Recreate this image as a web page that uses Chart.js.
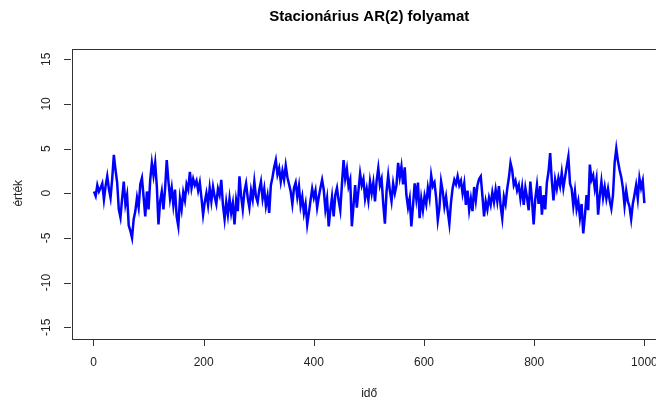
<!DOCTYPE html>
<html>
<head>
<meta charset="utf-8">
<script src="https://cdn.jsdelivr.net/npm/chart.js@4.4.1/dist/chart.umd.min.js"></script>
<style>
  html, body { margin: 0; padding: 0; background: #fff; overflow: hidden; }
  #wrap { width: 656px; height: 404px; overflow: hidden; }
</style>
</head>
<body>
<div id="wrap"><canvas id="graf" width="680" height="404"></canvas></div>
<script>
var lepes = 3;
var ertekek = [
  0.2, -0.3, 0.9, 0.2, 0.6, 1.1, -0.7, 0.8, 1.9, 0.5,
  -0.5, 1.6, 4.3, 2.6, 1.2, -1.8, -2.7, -0.6, 1.3, -1.2,
  -0.2, -3.6, -4.2, -5.0, -2.9, -2.0, -0.5, -1.6, 1.0, 1.7,
  -0.4, -2.6, 0.2, -1.8, 1.5, 3.4, 2.0, 3.4, 0.8, -3.5,
  -0.9, 0.2, -1.8, 0.5, 3.7, 1.4, -0.6, 0.6, -1.3, 0.4,
  -2.6, -3.7, -0.6, -1.8, 0.1, -0.8, 1.0, 0.4, 2.4, 0.6,
  1.6, 0.9, 1.4, 0.3, 1.2, -0.5, -2.4, -1.0, 0.0, -1.3,
  0.6, -0.9, 0.7, -0.4, -1.2, 0.5, -0.2, 1.5, -1.3, -2.9,
  -1.0, -2.4, -0.6, -2.2, -1.1, -3.5, -0.8, -2.0, 1.9, -0.3,
  -1.8, 0.2, 1.1, -0.5, -1.6, 0.3, -0.7, 1.3, -0.4, -1.0,
  0.4, 1.3, -0.6, 0.5, -1.4, -0.3, -2.2, 0.9, 1.8, 2.9,
  3.7, 2.1, 2.8, 1.3, 2.5, 1.5, 3.1, 1.8, 1.0, 0.2,
  -1.2, 0.6, 1.2, -0.4, 0.8, -1.4, -0.4, -2.2, -1.2, -3.5,
  -2.2, -0.8, 0.5, -0.5, 0.3, -1.6, -0.4, 0.6, 1.5, 0.4,
  -1.8, -0.6, -3.7, -1.9, -0.4, -2.6, -0.2, 0.6, -0.8, -1.9,
  1.0, 3.7, 1.6, 2.7, 0.8, 1.5, -3.7, -1.4, 0.9, -1.6,
  0.3, 2.2, 0.9, 1.6, -0.6, 0.5, -0.8, 1.3, 0.0, 1.2,
  -0.9, 1.4, 2.8, 0.9, 1.6, -1.2, -3.4, 0.2, 2.0, 0.3,
  -0.9, 1.1, 0.0, 0.9, 3.4, 1.8, 3.0, 1.0, 2.9, -0.2,
  -1.6, -0.6, -3.7, -1.4, 1.1, -0.6, 1.2, -2.8, -0.6, -1.9,
  -0.3, -1.2, 0.6, -0.5, 2.0, 0.8, 1.2, -0.5, -3.0, -1.6,
  1.3, 0.2, -1.5, -0.4, -2.0, -3.4, -1.0, 0.6, 1.5, 1.0,
  1.9, 0.9, 1.4, 0.0, 1.1, -1.3, 0.3, -1.9, -0.6, -2.0,
  0.7, -0.8, 0.9, 1.6, 1.9, -0.3, -2.6, -0.9, -1.8, -0.5,
  -1.3, 0.1, -1.0, 0.4, -0.9, 0.8, -1.4, -2.8, -0.4, -1.2,
  0.5, 1.7, 3.4, 2.6, 0.9, 1.4, 0.3, 0.9, -0.6, 0.7,
  -1.3, 0.6, -0.5, -1.9, 1.3, -0.8, -3.5, -0.6, 0.9, -1.2,
  0.8, -2.4, -0.2, -1.8, 1.2, 2.4, 4.5, 1.4, -0.8, 1.5,
  0.5, 1.7, 0.8, 2.3, 0.6, 1.8, 3.0, 4.1, 1.1, 0.5,
  -1.4, 0.2, -1.8, -0.9, -2.7, -1.2, -4.5, -2.6, -0.2, -1.9,
  3.2, 1.5, 2.0, 0.5, 1.6, -2.4, -0.3, 1.3, -0.5, 0.7,
  -0.6, 0.5, -0.8, -1.7, -0.2, 3.4, 5.0, 3.6, 2.6, 1.8,
  0.6, -1.4, 0.3, -0.9, -1.5, -2.9, -1.2, -0.2, 0.9, -0.6,
  1.7, 0.6, 1.4, -1.1
];
var xTicks = [0, 200, 400, 600, 800, 1000];
var yTicks = [-15, -10, -5, 0, 5, 10, 15];
var cim = 'Stacionárius AR(2) folyamat';
var xCim = 'idő';
var yCim = 'érték';

var pontok = ertekek.map(function (v, i) { return { x: 1 + i * lepes, y: v }; });

var rTengely = {
  id: 'rTengely',
  afterDraw: function (chart) {
    var ctx = chart.ctx, a = chart.chartArea, sx = chart.scales.x, sy = chart.scales.y;
    ctx.save();
    ctx.strokeStyle = '#333';
    ctx.lineWidth = 1;
    ctx.strokeRect(Math.round(a.left) + 0.5, Math.round(a.top) + 0.5,
      Math.round(a.right - a.left), Math.round(a.bottom - a.top));

    ctx.fillStyle = '#222';
    ctx.font = '12px "Liberation Sans", Arial, sans-serif';

    // x axis
    ctx.beginPath();
    xTicks.forEach(function (t) {
      var px = Math.round(sx.getPixelForValue(t)) + 0.5;
      ctx.moveTo(px, a.bottom + 1);
      ctx.lineTo(px, a.bottom + 8);
    });
    ctx.stroke();
    ctx.textAlign = 'center';
    ctx.textBaseline = 'middle';
    xTicks.forEach(function (t) {
      ctx.fillText(String(t), sx.getPixelForValue(t), a.bottom + 25);
    });

    // y axis
    ctx.beginPath();
    yTicks.forEach(function (t) {
      var py = Math.round(sy.getPixelForValue(t)) + 0.5;
      ctx.moveTo(a.left - 1, py);
      ctx.lineTo(a.left - 8, py);
    });
    ctx.stroke();
    yTicks.forEach(function (t) {
      ctx.save();
      ctx.translate(a.left - 25, sy.getPixelForValue(t));
      ctx.rotate(-Math.PI / 2);
      ctx.fillText(String(t), 0, 0);
      ctx.restore();
    });

    // titles
    var kx = (a.left + a.right) / 2;
    ctx.fillText(xCim, kx, 394);
    ctx.save();
    ctx.translate(19, (a.top + a.bottom) / 2);
    ctx.rotate(-Math.PI / 2);
    ctx.fillText(yCim, 0, 0);
    ctx.restore();
    ctx.fillStyle = '#000';
    ctx.font = 'bold 15px "Liberation Sans", Arial, sans-serif';
    ctx.fillText(cim, kx, 17);
    ctx.restore();
  }
};

var ctx = document.getElementById('graf').getContext('2d');
var graf = new Chart(ctx, {
  type: 'line',
  data: {
    datasets: [{
      data: pontok,
      borderColor: '#0000FF',
      borderWidth: 2.5,
      pointRadius: 0,
      tension: 0,
      fill: false
    }]
  },
  options: {
    responsive: false,
    animation: false,
    layout: { padding: { left: 72, right: 13.6, top: 48.5, bottom: 66 } },
    plugins: { legend: { display: false }, tooltip: { enabled: false } },
    scales: {
      x: { type: 'linear', display: false, min: -38.96, max: 1039.96 },
      y: { type: 'linear', display: false, min: -16.2, max: 16.2 }
    }
  },
  plugins: [rTengely]
});
</script>
</body>
</html>
